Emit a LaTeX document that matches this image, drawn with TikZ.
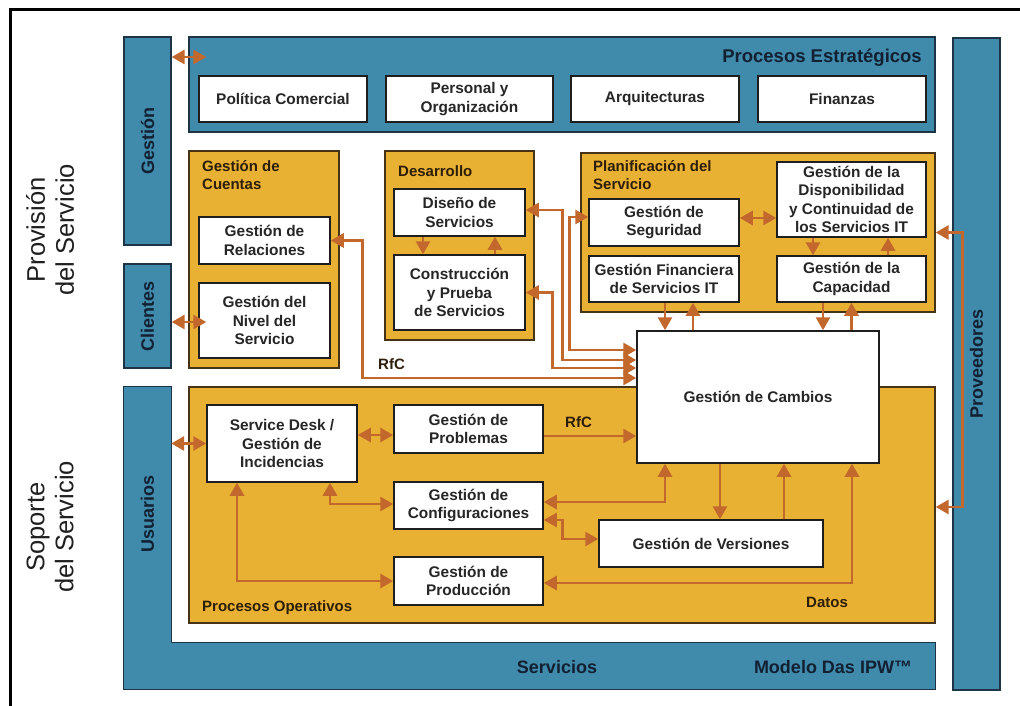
\documentclass[tikz,border=0pt]{standalone}
\usepackage{fontspec}
\setmainfont{Liberation Sans}
\usetikzlibrary{arrows.meta}

\definecolor{bluefill}{RGB}{64,138,172}
\definecolor{panelline}{RGB}{28,52,70}
\definecolor{goldfill}{RGB}{232,177,52}
\definecolor{goldline}{RGB}{70,50,20}
\definecolor{boxline}{RGB}{30,30,30}
\definecolor{boxtext}{RGB}{38,38,38}
\definecolor{navytext}{RGB}{18,32,50}
\definecolor{titletext}{RGB}{45,30,10}
\definecolor{arrowc}{RGB}{194,104,44}

\begin{document}
\begin{tikzpicture}[x=1pt,y=-1pt,
  panel/.style={draw=panelline, line width=1.3pt, fill=bluefill, inner sep=0pt},
  goldpanel/.style={draw=goldline, line width=1.3pt, fill=goldfill, inner sep=0pt},
  proc/.style={draw=boxline, line width=1.5pt, fill=white, align=center, inner sep=0pt,
    text=boxtext, font=\fontsize{15.4}{18.6}\selectfont\bfseries},
  barlabel/.style={text=navytext, font=\fontsize{18}{21}\selectfont\bfseries, inner sep=0pt},
  ttl/.style={text=titletext, align=left, inner sep=0pt, font=\fontsize{15}{18}\selectfont\bfseries},
  sidelbl/.style={text=black!88, align=center, inner sep=0pt, font=\fontsize{25.5}{29}\selectfont},
  tip/.tip={Triangle[length=13pt,width=14pt]},
  conn/.style={draw=arrowc, line width=2.9pt, -tip},
  dconn/.style={draw=arrowc, line width=2.9pt, tip-tip},
]
\useasboundingbox (0,0) rectangle (1020,706);

% page frame
\draw[line width=3pt, black] (1020,10) -- (10,10) -- (10,706);

% side captions
\node[sidelbl, rotate=90] (provision) at (50,230) {Provisión\\del Servicio};
\node[sidelbl, rotate=90] (soporte) at (50,527) {Soporte\\del Servicio};

% blue frame bars
\node[panel, minimum width=47pt, minimum height=208pt] (gestionbar) at (147.5,141) {};
\node[barlabel, rotate=90] (gestionlbl) at (gestionbar) {Gestión};
\node[panel, minimum width=47pt, minimum height=104pt] (clientesbar) at (147.5,316) {};
\node[barlabel, rotate=90] (clienteslbl) at (clientesbar) {Clientes};
\node[panel, minimum width=47pt, minimum height=652pt] (proveedoresbar) at (976.5,364) {};
\node[barlabel, rotate=90] (proveedoreslbl) at (proveedoresbar) {Proveedores};

\node[fill=bluefill, inner sep=0pt, minimum width=47pt, minimum height=302pt] (usuariosbar) at (147.5,538) {};
\node[fill=bluefill, inner sep=0pt, minimum width=811pt, minimum height=46pt] (serviciosbar) at (529.5,666) {};
\draw[panelline, line width=1.3pt] (usuariosbar.north west) -- (usuariosbar.north east)
  -- (usuariosbar.east |- serviciosbar.north) -- (serviciosbar.north east)
  -- (serviciosbar.south east) -- (serviciosbar.south west) -- cycle;
\node[barlabel, rotate=90] (usuarioslbl) at (147.5,514) {Usuarios};
\node[barlabel] (servicioslbl) at (557,667) {Servicios};
\node[barlabel] (modelolbl) at (833,667) {Modelo Das IPW™};

% strategic processes
\node[panel, minimum width=746pt, minimum height=95pt] (estrategicos) at (562,84.5) {};
\node[barlabel, anchor=east, font=\fontsize{18.5}{22}\selectfont\bfseries] (estrategicosttl) at (922,58) {Procesos Estratégicos};
\node[proc, minimum width=168pt, minimum height=46pt] (politica) at (283,99) {Política Comercial};
\node[proc, minimum width=167pt, minimum height=46pt] (personal) at (469.5,99) {Personal y\\Organización};
\node[proc, minimum width=168pt, minimum height=46pt] (arquitecturas) at (655,99) {Arquitecturas};
\node[proc, minimum width=168pt, minimum height=46pt] (finanzas) at (842,99) {Finanzas};

% account management
\node[goldpanel, minimum width=150pt, minimum height=217pt] (cuentas) at (264,259.5) {};
\node[ttl, anchor=west] (cuentasttl) at (202,175) {Gestión de\\Cuentas};
\node[proc, minimum width=131pt, minimum height=47pt] (relaciones) at (264.5,240.5) {Gestión de\\Relaciones};
\node[proc, minimum width=131pt, minimum height=75pt] (nivel) at (264.5,320.5) {Gestión del\\Nivel del\\Servicio};

% development
\node[goldpanel, minimum width=149pt, minimum height=189pt] (desarrollo) at (459.5,245.5) {};
\node[ttl, anchor=west] (desarrollottl) at (398,171) {Desarrollo};
\node[proc, minimum width=131pt, minimum height=47pt] (diseno) at (459.5,212.5) {Diseño de\\Servicios};
\node[proc, minimum width=131pt, minimum height=75pt] (construccion) at (459.5,292.5) {Construcción\\y Prueba\\de Servicios};

% service planning
\node[goldpanel, minimum width=354pt, minimum height=159pt] (planificacion) at (758,232.5) {};
\node[ttl, anchor=west] (planificacionttl) at (593,175) {Planificación del\\Servicio};
\node[proc, minimum width=150pt, minimum height=47pt] (seguridad) at (664,222.5) {Gestión de\\Seguridad};
\node[proc, minimum width=150pt, minimum height=46pt] (financiera) at (664,279) {Gestión Financiera\\de Servicios IT};
\node[proc, minimum width=149pt, minimum height=75pt] (disponibilidad) at (851.5,199.5) {Gestión de la\\Disponibilidad\\y Continuidad de\\los Servicios IT};
\node[proc, minimum width=149pt, minimum height=46pt] (capacidad) at (851.5,279) {Gestión de la\\Capacidad};

% operational processes
\node[goldpanel, minimum width=746pt, minimum height=236pt] (operativos) at (562,505) {};
\node[ttl, anchor=west] (operativosttl) at (202,608) {Procesos Operativos};
\node[proc, minimum width=150pt, minimum height=77pt] (servicedesk) at (282,443.5) {Service Desk /\\Gestión de\\Incidencias};
\node[proc, minimum width=149pt, minimum height=48pt] (problemas) at (468.5,429) {Gestión de\\Problemas};
\node[proc, minimum width=149pt, minimum height=47pt] (configuraciones) at (468.5,505.5) {Gestión de\\Configuraciones};
\node[proc, minimum width=149pt, minimum height=48pt] (produccion) at (468.5,581) {Gestión de\\Producción};
\node[proc, minimum width=224pt, minimum height=47pt] (versiones) at (711,543.5) {Gestión de Versiones};

% change management
\node[proc, minimum width=242pt, minimum height=132pt] (cambios) at (758,397) {Gestión de Cambios};

% labels on connectors
\node[ttl, anchor=west] (rfcarriba) at (378,364) {RfC};
\node[ttl, anchor=west] (rfcabajo) at (565,422) {RfC};
\node[ttl] (datos) at (827,602) {Datos};

% connectors: frame bars
\draw[dconn] ([yshift=84pt]gestionbar.east) -- ([yshift=27.5pt,xshift=18pt]estrategicos.west);
\draw[dconn] ([yshift=-6pt]clientesbar.east) -- ([yshift=-1.5pt,xshift=8pt]nivel.west);
\draw[dconn] (usuariosbar.east |- servicedesk.west) -- (servicedesk.west);
\draw[dconn] (planificacion.east) -- ++(27,0) |- ([yshift=-2pt]operativos.east);

% connectors: requests for change
\draw[dconn] (relaciones.east) -- ++(32,0) |- ([yshift=19pt]cambios.west);
\draw[dconn] ([yshift=2.5pt]diseno.east) -- ++(37,0) |- ([yshift=37pt]cambios.west);
\draw[dconn] ([yshift=5.5pt]seguridad.west) -- ++(-19,0) |- ([yshift=47pt]cambios.west);
\draw[dconn] (construccion.east) -- ++(27,0) |- ([yshift=29pt]cambios.west);

% connectors: inside development
\draw[conn] ([xshift=-36.5pt]diseno.south) -- ([xshift=-36.5pt]construccion.north);
\draw[conn] ([xshift=35.5pt]construccion.north) -- ([xshift=35.5pt]diseno.south);

% connectors: inside planning
\draw[dconn] ([yshift=4.5pt]seguridad.east) -- ([yshift=-18.5pt]disponibilidad.west);
\draw[conn] ([xshift=-38.5pt]disponibilidad.south) -- ([xshift=-38.5pt]capacidad.north);
\draw[conn] ([xshift=36.5pt]capacidad.north) -- ([xshift=36.5pt]disponibilidad.south);

% connectors: planning to change management
\draw[conn] ([xshift=1pt]financiera.south) -- ([xshift=1pt]financiera.south |- cambios.north);
\draw[conn] ([xshift=29pt]financiera.south |- cambios.north) -- ([xshift=29pt]financiera.south);
\draw[conn] ([xshift=-28.5pt]capacidad.south) -- ([xshift=-28.5pt]capacidad.south |- cambios.north);
\draw[conn] (capacidad.south |- cambios.north) -- (capacidad.south);

% connectors: operational processes
\draw[dconn] ([yshift=8.5pt]servicedesk.east) -- ([yshift=-6pt]problemas.west);
\draw[dconn] ([xshift=48pt]servicedesk.south) |- ([yshift=1.5pt]configuraciones.west);
\draw[dconn] ([xshift=-45pt]servicedesk.south) |- (produccion.west);
\draw[conn] ([yshift=-7pt]problemas.east) -- ([yshift=-7pt]problemas.east -| cambios.west);
\draw[dconn] ([yshift=3.5pt]configuraciones.east) -| ([xshift=-93pt]cambios.south);
\draw[conn] ([xshift=-38pt]cambios.south) -- ([xshift=9pt]versiones.north);
\draw[conn] ([xshift=73pt]versiones.north) -- ([xshift=26pt]cambios.south);
\draw[dconn] ([yshift=-14.5pt]configuraciones.east) -- ++(19,0) |- ([yshift=4.5pt]versiones.west);
\draw[dconn] ([yshift=-2pt]produccion.east) -| ([xshift=94pt]cambios.south);
\end{tikzpicture}
\end{document}
